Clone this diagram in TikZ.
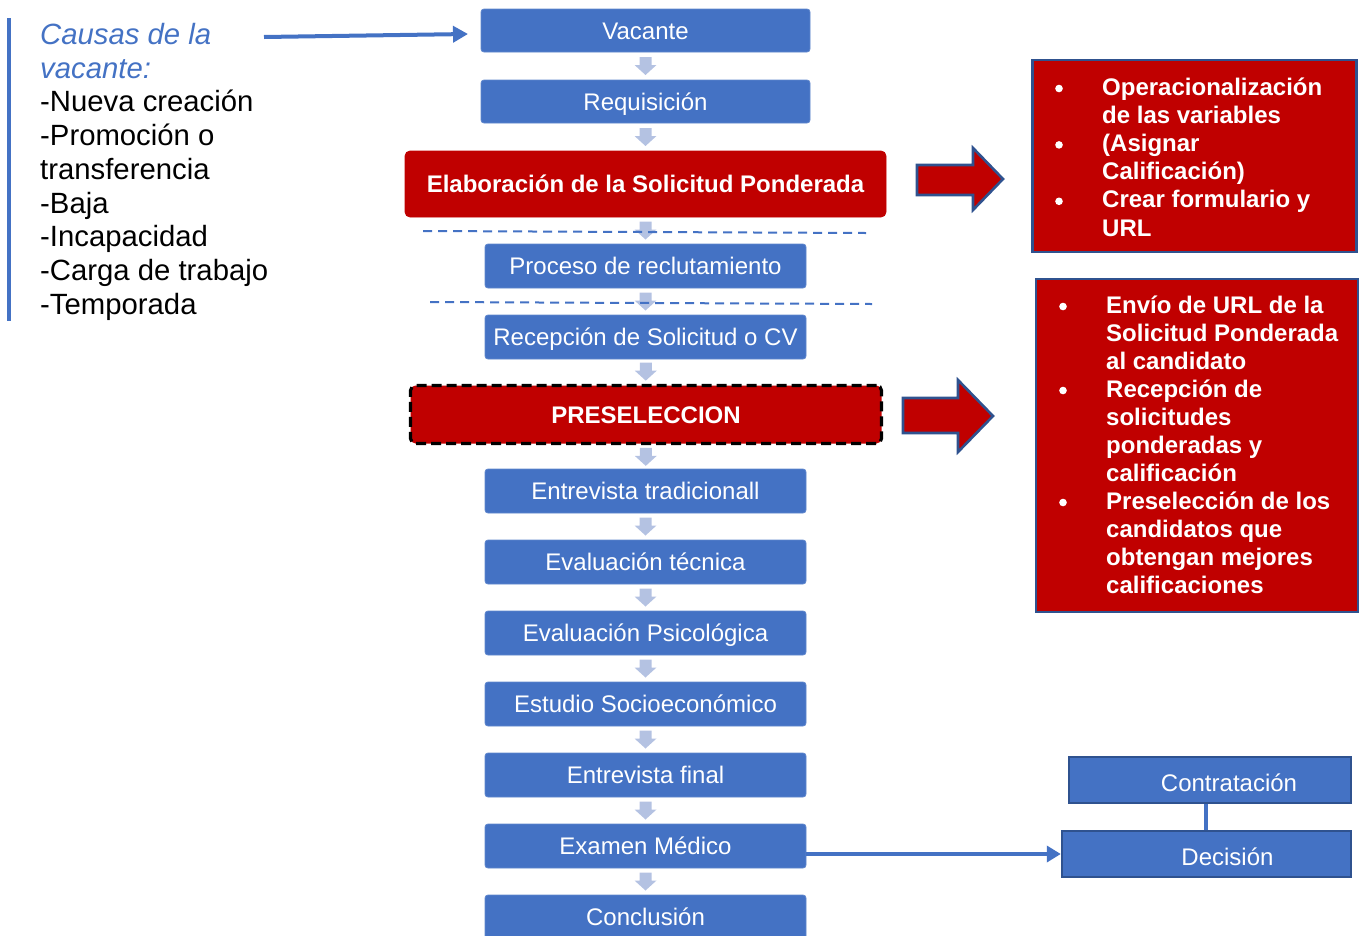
\documentclass[tikz,border=0pt]{standalone}
\usepackage{fontspec}
\setmainfont{Liberation Sans}
\usetikzlibrary{arrows.meta,calc}

\definecolor{flowblue}{HTML}{4472C4}
\definecolor{deepred}{HTML}{C00000}
\definecolor{edgeblue}{HTML}{2F528F}
\definecolor{stepgray}{HTML}{B4C2E2}

\begin{document}
\begin{tikzpicture}[x=1pt,y=-1pt,
  flowbox/.style={rectangle, rounded corners=3pt, fill=flowblue, draw=flowblue!85!white,
    line width=0.8pt, text=white, font=\fontsize{24}{28}\selectfont,
    text height=17.2pt, text depth=0pt, inner sep=0pt,
    minimum width=321pt, minimum height=44pt},
  redstep/.style={flowbox, fill=deepred, draw=deepred, rounded corners=5pt,
    font=\fontsize{24}{28}\selectfont\bfseries},
  notebox/.style={rectangle, fill=deepred, draw=edgeblue, line width=2.4pt, inner sep=0pt},
  notetext/.style={anchor=base west, inner sep=0pt, text=white,
    font=\fontsize{24}{28}\selectfont\bfseries},
  causetext/.style={anchor=base west, inner sep=0pt, font=\fontsize{29.3}{34}\selectfont},
  squarebox/.style={rectangle, fill=flowblue, draw=edgeblue, line width=2.4pt, inner sep=0pt},
  squarelabel/.style={text=white, font=\fontsize{24}{28}\selectfont,
    text height=17.2pt, text depth=0pt, inner sep=0pt},
  blockarrow/.style={fill=deepred, draw=edgeblue, line width=2.6pt, line join=miter},
  separator/.style={flowblue, line width=2pt, dash pattern=on 9pt off 6pt},
  downarrow/.pic={\fill[stepgray] (-6,-9) -- (6,-9) -- (6,-1) -- (11,-1) -- (0,9)
    -- (-11,-1) -- (-6,-1) -- cycle;}
]
\useasboundingbox (0,0) rectangle (1359,935);

% causes of the vacancy
\draw[flowblue, line width=4pt] (8.5,18) -- (8.5,320.5);
\node[causetext, text=flowblue] (c0) at (40,44) {\itshape Causas de la};
\node[causetext, text=flowblue] (c1) at (40,78) {\itshape vacante:};
\foreach \t [count=\i from 2] in {-Nueva creación,-Promoción o,transferencia,-Baja,
  -Incapacidad,-Carga de trabajo,-Temporada}
  \node[causetext] (c\i) at (40,{44+33.8*\i}) {\t};

% main flow
\node[flowbox, minimum width=329pt, minimum height=43pt] (vac) at (645.5,30.5) {Vacante};
\node[flowbox, minimum width=329pt, minimum height=43pt] (req) at (645.5,101.5) {Requisición};
\node[redstep, minimum width=481pt, minimum height=66pt] (elab) at (645.5,184) {Elaboración de la Solicitud Ponderada};
\node[flowbox] (rec) at (645.5,266) {Proceso de reclutamiento};
\node[flowbox] (cv) at (645.5,337) {Recepción de Solicitud o CV};
\node[redstep, minimum width=471pt, minimum height=58pt, draw=black,
  dash pattern=on 10pt off 5pt, line width=3.2pt] (pre) at (646,414.5) {PRESELECCION};
\node[flowbox] (ent) at (645.5,491) {Entrevista tradicionall};
\node[flowbox] (tec) at (645.5,562) {Evaluación técnica};
\node[flowbox] (psi) at (645.5,633) {Evaluación Psicológica};
\node[flowbox] (soc) at (645.5,704) {Estudio Socioeconómico};
\node[flowbox] (fin) at (645.5,775) {Entrevista final};
\node[flowbox] (med) at (645.5,846) {Examen Médico};
\node[flowbox] (con) at (645.5,917) {Conclusión};

% step arrows between consecutive stages
\foreach \a/\b in {vac/req,req/elab,elab/rec,rec/cv,cv/pre,pre/ent,ent/tec,tec/psi,
  psi/soc,soc/fin,fin/med,med/con}
  \pic at ($(\a.south)!0.5!(\b.north)$) {downarrow};

% dashed separators around the recruitment stage
\draw[separator] (423,231) -- (866,233);
\draw[separator] (430,302) -- (872,304);

% arrow from the causes to the vacancy
\coordinate (cstart) at (264,37);
\coordinate (cend) at (468,34);
\draw[flowblue, line width=4pt, -{Triangle[length=15pt,width=16pt]}] (cstart) -- (cend);

% red block arrows
\draw[blockarrow] (917,165) -- (973,165) -- (973,148) -- (1003,179) -- (973,210)
  -- (973,195) -- (917,195) -- cycle;
\draw[blockarrow] (903,398) -- (958,398) -- (958,380) -- (993,416) -- (958,452)
  -- (958,433) -- (903,433) -- cycle;

% note boxes
\node[notebox, minimum width=324pt, minimum height=192pt] (n1) at (1194.5,156) {};
\foreach \t [count=\i from 0] in {{Operacionalización},{de las variables},{(Asignar},
  {Calificación)},{Crear formulario y},{URL}}
  \node[notetext] (n1t\i) at (1102,{95+28.2*\i}) {\t};
\foreach \i in {0,2,4}
  \fill[white] (1059,{88.5+28.2*\i}) circle (3.8);

\node[notebox, minimum width=322pt, minimum height=333pt] (n2) at (1197,445.5) {};
\foreach \t [count=\i from 0] in {Envío de URL de la,Solicitud Ponderada,al candidato,
  Recepción de,solicitudes,ponderadas y,calificación,Preselección de los,
  candidatos que,obtengan mejores,calificaciones}
  \node[notetext] (n2t\i) at (1106,{313+28*\i}) {\t};
\foreach \i in {0,3,7}
  \fill[white] (1063,{306.5+28*\i}) circle (3.8);

% decision branch
\node[squarebox, minimum width=282pt, minimum height=46pt] (hire) at (1210,780) {};
\node[squarebox, minimum width=289pt, minimum height=46pt] (dec) at (1206.5,854) {};
\node[squarelabel] (hiret) at ($(hire.center)+(19,3)$) {Contratación};
\node[squarelabel] (dect) at ($(dec.center)+(21,3)$) {Decisión};
\draw[flowblue, line width=3.4pt] (dec.north -| 1206,0) -- (hire.south -| 1206,0);
\draw[flowblue, line width=3.6pt, -{Triangle[length=14pt,width=16pt]}]
  (med.east |- dec.west) -- (dec.west);
\end{tikzpicture}
\end{document}
